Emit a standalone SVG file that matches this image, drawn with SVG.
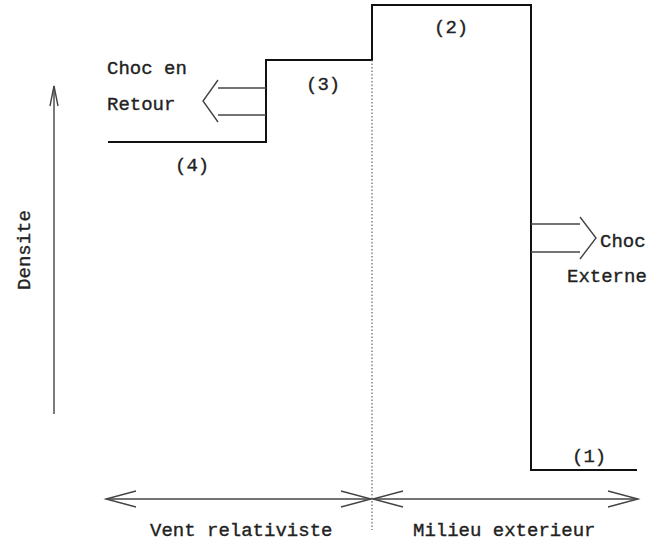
<svg xmlns="http://www.w3.org/2000/svg" width="657" height="545" viewBox="0 0 657 545">
<style>
  text { font-family: "Liberation Mono", "DejaVu Sans Mono", monospace; font-size: 19px; fill: #222; stroke: #222; stroke-width: 0.35; }
  .step { fill: none; stroke: #111; stroke-width: 2; }
  .thin { fill: none; stroke: #444; stroke-width: 1.4; }
  .dot { fill: none; stroke: #666; stroke-width: 1.2; stroke-dasharray: 1.5 2; }
</style>
<rect width="657" height="545" fill="#fff"/>
<g id="profile">
  <polyline class="step" points="108,142 266,142 266,60 372,60 372,5 531,5 531,470 637,470"/>
</g>
<g id="separator">
  <line class="dot" x1="372" y1="60" x2="372" y2="530"/>
</g>
<g id="labels-regions">
  <text x="434" y="33">(2)</text>
  <text x="306" y="90">(3)</text>
  <text x="175" y="171">(4)</text>
  <text x="572" y="462">(1)</text>
</g>
<g id="connectors">
  <g id="density-axis">
    <line class="thin" x1="54" y1="86" x2="54" y2="414"/>
    <polyline class="thin" points="50,106 54,86 58,106"/>
  </g>
  <g id="choc-retour-arrow">
    <line class="thin" x1="266" y1="88" x2="218" y2="88"/>
    <line class="thin" x1="266" y1="115" x2="218" y2="115"/>
    <polyline class="thin" points="218,80 203,101 218,122"/>
  </g>
  <g id="choc-externe-arrow">
    <line class="thin" x1="531" y1="224" x2="580" y2="224"/>
    <line class="thin" x1="531" y1="252" x2="580" y2="252"/>
    <polyline class="thin" points="580,217 596,238 580,259"/>
  </g>
  <g id="vent-arrow">
    <line class="thin" x1="106" y1="499" x2="371" y2="499"/>
    <polyline class="thin" points="136,491 106,499 136,507"/>
    <polyline class="thin" points="341,491 371,499 341,507"/>
  </g>
  <g id="milieu-arrow">
    <line class="thin" x1="373" y1="499" x2="638" y2="499"/>
    <polyline class="thin" points="403,491 373,499 403,507"/>
    <polyline class="thin" points="608,491 638,499 608,507"/>
  </g>
</g>
<g id="label-choc-retour">
  <text x="107" y="74">Choc en</text>
  <text x="107" y="110">Retour</text>
</g>
<g id="label-choc-externe">
  <text x="600" y="247">Choc</text>
  <text x="567" y="282">Externe</text>
</g>
<g id="label-densite">
  <text x="30" y="250" text-anchor="middle" transform="rotate(-90 30 250)">Densite</text>
</g>
<g id="label-vent">
  <text x="150" y="536">Vent relativiste</text>
</g>
<g id="label-milieu">
  <text x="413" y="536">Milieu exterieur</text>
</g>
</svg>
